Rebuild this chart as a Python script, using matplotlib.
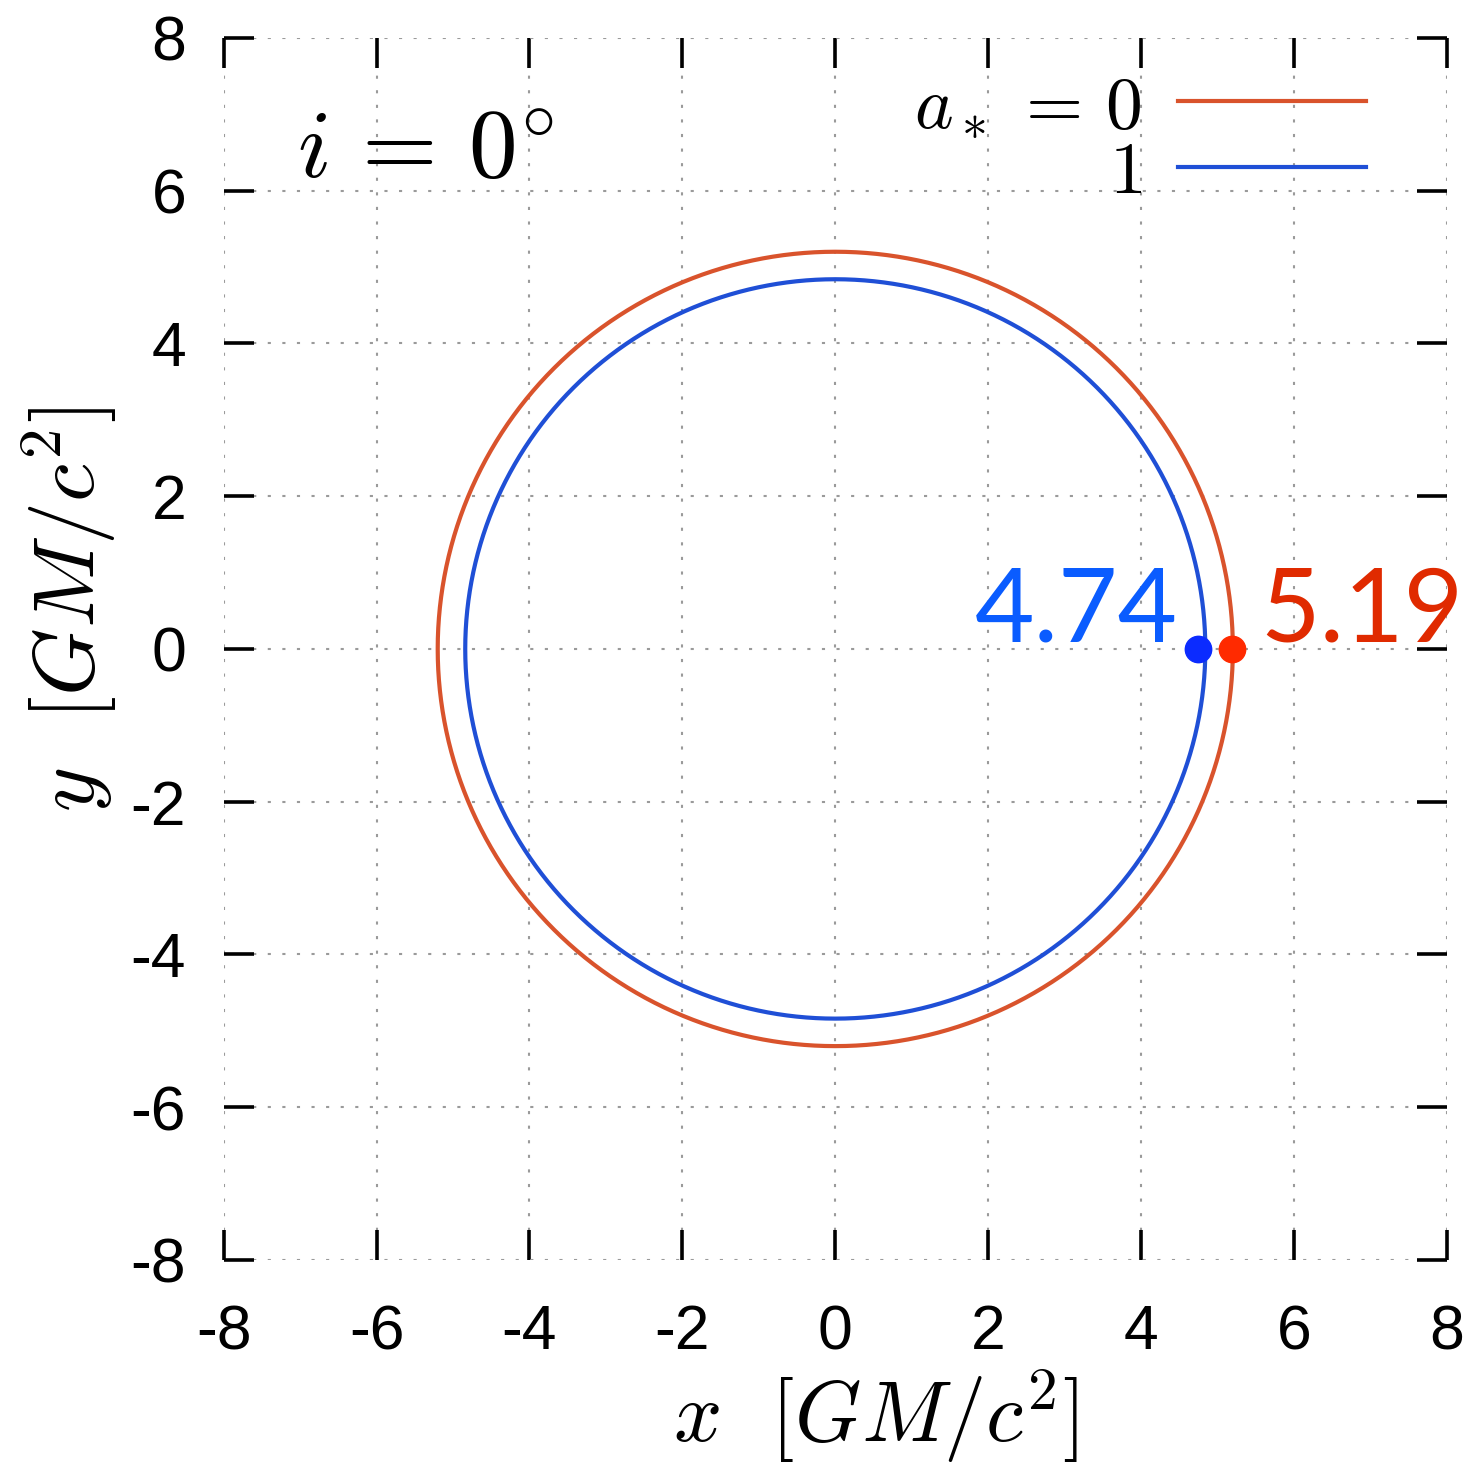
import numpy as np
import matplotlib
matplotlib.use("Agg")
import matplotlib.pyplot as plt

# shadow radii (GM/c^2) for each spin, observer at i = 0
spins = ["0", "1"]
radii = [5.20, 4.84]
line_colors = ["#d9532c", "#1f4fd6"]

# annotated edge values
edge_values = [4.74, 5.19]
edge_colors = ["#0b2bff", "#ff2a00"]
text_colors = ["#0a5cff", "#e02a00"]

ticks = [-8, -6, -4, -2, 0, 2, 4, 6, 8]

plt.rcParams["mathtext.fontset"] = "cm"
plt.rcParams["axes.unicode_minus"] = False
plt.rcParams["font.family"] = ["Liberation Sans", "DejaVu Sans"]

fig = plt.figure(figsize=(14.81, 14.68), dpi=100)
ax = fig.add_axes([0.151, 0.1417, 0.826, 0.8325])

theta = np.linspace(0, 2 * np.pi, 721)
for s, r, c in zip(spins, radii, line_colors):
    label = r"$a_*\,=\,0$" if s == "0" else r"$1$"
    ax.plot(r * np.cos(theta), r * np.sin(theta), color=c, lw=3.0, label=label)

for v, c in zip(edge_values, edge_colors):
    ax.plot([v], [0], "o", color=c, ms=19, zorder=5)

ax.annotate("4.74", xy=(edge_values[0], 0), xytext=(-14, 5),
            textcoords="offset points", ha="right", va="baseline",
            fontsize=74, color=text_colors[0], family="Lato")
ax.annotate("5.19", xy=(edge_values[1], 0), xytext=(20, 5),
            textcoords="offset points", ha="left", va="baseline",
            fontsize=74, color=text_colors[1], family="Lato")

ax.text(0.06, 0.886, r"$i\,=\,0^{\circ}$", transform=ax.transAxes,
        fontsize=70, ha="left", va="baseline")

ax.set_xlim(-8, 8)
ax.set_ylim(-8, 8)
ax.set_xticks(ticks)
ax.set_yticks(ticks)
ax.set_xticklabels([str(t) for t in ticks])
ax.set_yticklabels([str(t) for t in ticks])

for sp in ax.spines.values():
    sp.set_visible(False)
ax.tick_params(direction="in", length=21.5, width=2.6, top=True, right=True,
               labelsize=45, color="black")
ax.tick_params(axis="x", pad=31)
ax.tick_params(axis="y", pad=27)

ax.set_axisbelow(True)
ax.grid(True, color="#9a9a9a", lw=1.5, linestyle=(0, (1.5, 5.5)))

ax.set_xlabel(r"$x\ \ [GM/c^2]$", fontsize=61, va="center")
ax.set_ylabel(r"$y\ \ [GM/c^2]$", fontsize=62, va="center")
ax.xaxis.set_label_coords(0.533, -0.128)
ax.yaxis.set_label_coords(-0.126, 0.532)

leg = ax.legend(loc="upper right", bbox_to_anchor=(0.976, 1.014), frameon=False,
                markerfirst=False, fontsize=53, handlelength=2.55,
                handletextpad=0.5, labelspacing=-0.03, borderaxespad=0.3)

fig.savefig("out.png", dpi=100)
